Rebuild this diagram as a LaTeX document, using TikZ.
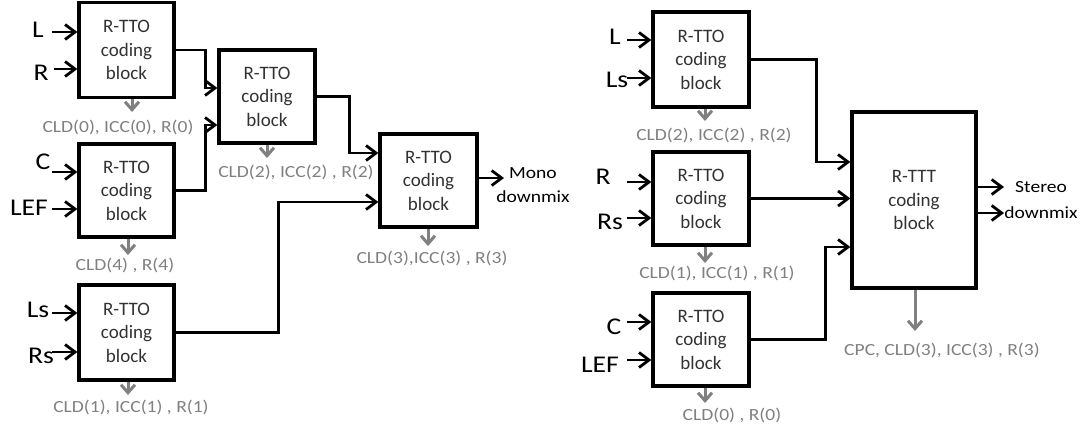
\documentclass[tikz,border=0pt]{standalone}
\usepackage{fontspec}
\setmainfont{Carlito}
\newfontfamily\inputfont[FakeStretch=1.15]{Carlito}
\newfontfamily\grayfont[FakeStretch=1.15]{Carlito}
\usetikzlibrary{arrows.meta}
\definecolor{lblgray}{RGB}{128,128,128}
\definecolor{boxtext}{RGB}{50,50,50}
\begin{document}
\begin{tikzpicture}[x=1pt,y=-1pt,
  blk/.style={draw=black, line width=3.3pt, align=center, text=boxtext,
    font=\fontsize{19}{23.5}\selectfont, inner sep=0pt},
  arr/.style={line width=2.8pt, -{Straight Barb[length=10pt,width=15pt]}},
  conn/.style={line width=2.8pt, -{Straight Barb[length=10pt,width=15pt]}},
  garr/.style={draw=lblgray, line width=3pt, -{Straight Barb[length=8pt,width=14pt]}},
  glbl/.style={text=lblgray, font=\grayfont\fontsize{17}{20}\selectfont, inner sep=0pt},
  inlbl/.style={font=\inputfont\fontsize{24}{26}\selectfont, inner sep=0pt},
  outlbl/.style={align=center, inner sep=0pt}
]
\useasboundingbox (0,0) rectangle (1086,432);

% ---------- left diagram: blocks ----------
\node[blk, minimum width=95pt, minimum height=95pt] (A)  at (126.5,50)  {R-TTO\\coding\\block};
\node[blk, minimum width=95pt, minimum height=93pt] (Cb) at (126.5,190.5) {R-TTO\\coding\\block};
\node[blk, minimum width=95pt, minimum height=95pt] (D)  at (126.5,332.5) {R-TTO\\coding\\block};
\node[blk, minimum width=96pt, minimum height=93pt] (B)  at (267,96.5)  {R-TTO\\coding\\block};
\node[blk, minimum width=97pt, minimum height=93pt] (E)  at (428.5,180.5) {R-TTO\\coding\\block};

% inputs left
\node[inlbl] (iL)   at (38,30)  {L};
\node[inlbl] (iR)   at (41,73)  {R};
\node[inlbl] (iC)   at (43,162) {C};
\node[inlbl] (iLEF) at (29,208) {LEF};
\node[inlbl] (iLs)  at (38,310) {Ls};
\node[inlbl] (iRs)  at (41,356) {Rs};
\coordinate (sL)   at (52,32);
\coordinate (sR)   at (54,69);
\coordinate (sC)   at (52,172);
\coordinate (sLEF) at (52,209);
\coordinate (sLs)  at (52,313);
\coordinate (sRs)  at (52,352);
\draw[arr] (sL)   -- (sL -| A.west);
\draw[arr] (sR)   -- (sR -| A.west);
\draw[arr] (sC)   -- (sC -| Cb.west);
\draw[arr] (sLEF) -- (sLEF -| Cb.west);
\draw[arr] (sLs)  -- (sLs -| D.west);
\draw[arr] (sRs)  -- (sRs -| D.west);

% connectors left
\draw[conn] (A.east)  -- ++(30,0)  |- ([yshift=8.5pt]B.west);
\draw[conn] (Cb.east) -- ++(30,0)  |- ([yshift=-28.5pt]B.west);
\draw[conn] (B.east)  -- ++(33,0)  |- ([yshift=27.5pt]E.west);
\draw[conn] (D.east)  -- ++(103,0) |- ([yshift=-21.5pt]E.west);

% output left
\node[outlbl, font=\grayfont\fontsize{17}{24}\selectfont] (mono) at (533,185) {Mono\\downmix};
\coordinate (eMono) at (504,178);
\draw[arr] (eMono -| E.east) -- (eMono);

% gray parameter arrows & labels left
\node[glbl] (la) at (118,127) {CLD(0), ICC(0), R(0)};
\node[glbl] (lc) at (125,265) {CLD(4) , R(4)};
\node[glbl] (ld) at (131,407) {CLD(1), ICC(1) , R(1)};
\node[glbl] (lb) at (296,172) {CLD(2), ICC(2) , R(2)};
\node[glbl] (le) at (432,258) {CLD(3),ICC(3) , R(3)};
\coordinate (ga) at (132,112);
\coordinate (gc) at (128,255);
\coordinate (gd) at (128,395);
\coordinate (gb) at (267,158);
\coordinate (ge) at (428,246);
\draw[garr] (ga |- A.south)  -- (ga);
\draw[garr] (gc |- Cb.south) -- (gc);
\draw[garr] (gd |- D.south)  -- (gd);
\draw[garr] (gb |- B.south)  -- (gb);
\draw[garr] (ge |- E.south)  -- (ge);

% ---------- right diagram ----------
\node[blk, minimum width=96pt, minimum height=95pt] (F) at (701,59.5)  {R-TTO\\coding\\block};
\node[blk, minimum width=96pt, minimum height=93pt] (G) at (701,198.5) {R-TTO\\coding\\block};
\node[blk, minimum width=96pt, minimum height=93pt] (H) at (701,339.5) {R-TTO\\coding\\block};
\node[blk, minimum width=124pt, minimum height=176pt] (T) at (914,200) {R-TTT\\coding\\block};

\node[inlbl] (jL)   at (615,37)  {L};
\node[inlbl] (jLs)  at (617,80)  {Ls};
\node[inlbl] (jR)   at (603,177) {R};
\node[inlbl] (jRs)  at (610,222) {Rs};
\node[inlbl] (jC)   at (614,327) {C};
\node[inlbl] (jLEF) at (600,365) {LEF};
\coordinate (tL)   at (627,40);
\coordinate (tLs)  at (627,78);
\coordinate (tR)   at (627,182);
\coordinate (tRs)  at (627,218);
\coordinate (tC)   at (627,322);
\coordinate (tLEF) at (627,360);
\draw[arr] (tL)   -- (tL -| F.west);
\draw[arr] (tLs)  -- (tLs -| F.west);
\draw[arr] (tR)   -- (tR -| G.west);
\draw[arr] (tRs)  -- (tRs -| G.west);
\draw[arr] (tC)   -- (tC -| H.west);
\draw[arr] (tLEF) -- (tLEF -| H.west);

\draw[conn] (F.east) -- ++(66,0) |- ([yshift=38pt]T.west);
\draw[conn] (G.east) -- (G.east -| T.west);
\draw[conn] (H.east) -- ++(75,0) |- ([yshift=-47pt]T.west);

\node[outlbl, font=\grayfont\fontsize{17}{26}\selectfont] (stereo) at (1041,200) {Stereo\\downmix};
\coordinate (so1) at (1004,187);
\coordinate (so2) at (1004,213);
\draw[arr] (so1 -| T.east) -- (so1);
\draw[arr] (so2 -| T.east) -- (so2);

\node[glbl] (lf) at (714,135) {CLD(2), ICC(2) , R(2)};
\node[glbl] (lg) at (717,273) {CLD(1), ICC(1) , R(1)};
\node[glbl] (lh) at (732,415) {CLD(0) , R(0)};
\node[glbl] (lt) at (942,350) {CPC, CLD(3), ICC(3) , R(3)};
\coordinate (gf) at (705,121);
\coordinate (gg) at (705,263);
\coordinate (gh) at (705,403);
\coordinate (gt) at (915,331);
\draw[garr] (gf |- F.south) -- (gf);
\draw[garr] (gg |- G.south) -- (gg);
\draw[garr] (gh |- H.south) -- (gh);
\draw[garr] (gt |- T.south) -- (gt);
\end{tikzpicture}
\end{document}
